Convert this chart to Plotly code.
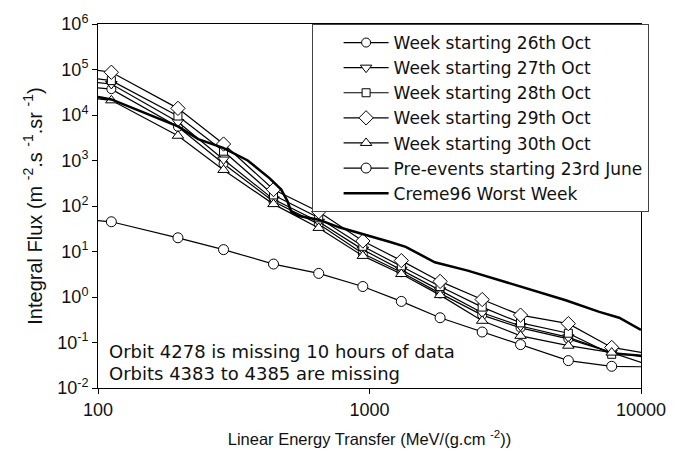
import plotly.graph_objects as go

# LET values (MeV/(g.cm^-2)); first/last entries lie just outside the axis range
let_x = [90, 112, 197, 290, 443, 650, 945, 1310, 1820, 2600, 3600, 5400, 7800, 11000]

week_26 = [42000, 37000, 5500, 850, 125, 40, 9.0, 3.5, 1.2, 0.40, 0.21, 0.12, 0.060, 0.045]
week_27 = [55000, 48000, 7000, 1050, 140, 45, 11, 4.0, 1.4, 0.45, 0.23, 0.13, 0.060, 0.050]
week_28 = [68000, 57000, 9500, 1600, 175, 55, 13, 4.8, 1.7, 0.60, 0.27, 0.16, 0.055, 0.050]
week_29 = [105000, 87000, 14000, 2300, 230, 75, 17, 6.3, 2.2, 0.88, 0.40, 0.26, 0.078, 0.055]
week_30 = [24000, 21000, 3500, 620, 110, 33, 8.0, 3.2, 1.1, 0.30, 0.14, 0.085, 0.060, 0.030]
pre_events = [50, 45, 20, 11, 5.3, 3.3, 1.7, 0.8, 0.35, 0.17, 0.09, 0.04, 0.030, 0.029]

creme_x = [100, 112, 197, 234, 289, 356, 428, 473, 498, 515, 550, 650, 773, 955,
           1200, 1360, 1540, 1740, 2300, 3040, 4020, 5280, 7020, 8310, 10000]
creme_y = [25000, 22000, 5600, 2950, 1900, 1000, 410, 230, 130, 74, 60, 50, 34, 24,
           16, 12.6, 8.5, 5.8, 3.8, 2.3, 1.4, 0.85, 0.47, 0.35, 0.19]

series_names = ["Week starting 26th Oct", "Week starting 27th Oct", "Week starting 28th Oct",
                "Week starting 29th Oct", "Week starting 30th Oct", "Pre-events starting 23rd June"]
series_values = [week_26, week_27, week_28, week_29, week_30, pre_events]
symbols = ["circle", "triangle-down", "square", "diamond", "triangle-up", "circle"]
sizes = [9, 10, 8, 11, 10, 10]

y_tick_vals = [1e-2, 1e-1, 1e0, 1e1, 1e2, 1e3, 1e4, 1e5, 1e6]
y_tick_text = ["10<sup>-2</sup>", "10<sup>-1</sup>", "10<sup>0</sup>", "10<sup>1</sup>",
               "10<sup>2</sup>", "10<sup>3</sup>", "10<sup>4</sup>", "10<sup>5</sup>", "10<sup>6</sup>"]
x_tick_vals = [100, 1000, 10000]
x_tick_text = ["100", "1000", "10000"]

FONT = "Liberation Sans, Arial, sans-serif"
WIDE = "DejaVu Sans, Liberation Sans, sans-serif"
INK = "#111"

fig = go.Figure()
for name, vals, sym, sz in zip(series_names, series_values, symbols, sizes):
    fig.add_trace(go.Scatter(
        x=let_x, y=vals, name=name, mode="lines+markers",
        line=dict(color="black", width=1.2),
        marker=dict(symbol=sym, size=sz, color="white", line=dict(color="black", width=1)),
    ))
fig.add_trace(go.Scatter(
    x=creme_x, y=creme_y, name="Creme96 Worst Week", mode="lines",
    line=dict(color="black", width=2.5),
))

fig.update_layout(
    width=678, height=461,
    margin=dict(l=98, r=29, t=19, b=73),
    paper_bgcolor="white", plot_bgcolor="white",
    font=dict(family=FONT, size=18, color=INK),
    showlegend=True,
    legend=dict(x=1.014, y=1, xanchor="right", yanchor="top",
                bgcolor="white", bordercolor="#444", borderwidth=1,
                font=dict(family=WIDE, size=17, color=INK),
                itemwidth=45, indentation=26, tracegroupgap=0),
    annotations=[
        dict(x=0.016, y=0.10, xref="paper", yref="paper", xanchor="left", yanchor="middle",
             text="Orbit 4278 is missing 10 hours of data", showarrow=False,
             font=dict(family=WIDE, size=18, color=INK)),
        dict(x=0.016, y=0.04, xref="paper", yref="paper", xanchor="left", yanchor="middle",
             text="Orbits 4383 to 4385 are missing", showarrow=False,
             font=dict(family=WIDE, size=18, color=INK)),
    ],
)
fig.update_xaxes(
    type="log", range=[2, 4], tickvals=x_tick_vals, ticktext=x_tick_text,
    showgrid=False, zeroline=False, showline=True, linecolor="black", linewidth=1,
    mirror=True, ticks="outside", ticklen=5, tickcolor="black",
    tickfont=dict(family=FONT, size=18, color=INK),
    title=dict(text="Linear Energy Transfer (MeV/(g.cm <sup>-2</sup>))", standoff=14,
               font=dict(family=FONT, size=16.5, color=INK)),
)
fig.update_yaxes(
    type="log", range=[-2, 6], tickvals=y_tick_vals, ticktext=y_tick_text,
    showgrid=False, zeroline=False, showline=True, linecolor="black", linewidth=1,
    mirror=True, ticks="outside", ticklen=5, tickcolor="black",
    tickfont=dict(family=FONT, size=18, color=INK),
    title=dict(text="Integral Flux (m <sup>-2</sup>.s <sup>-1</sup>.sr <sup>-1</sup>)", standoff=9,
               font=dict(family=FONT, size=20, color=INK)),
)

fig.write_html("out.html")
